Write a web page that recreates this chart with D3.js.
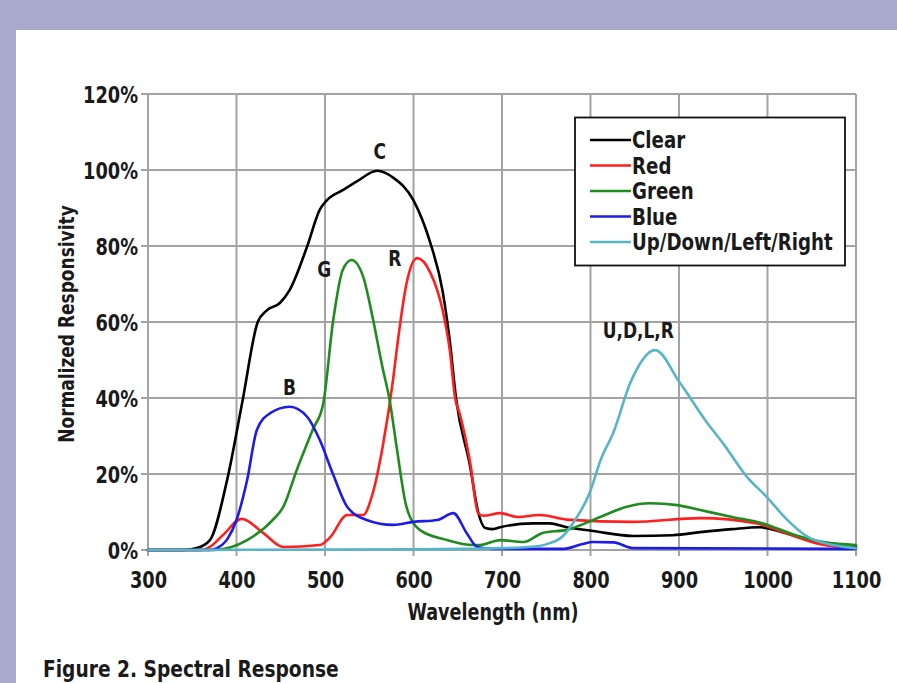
<!DOCTYPE html>
<html>
<head>
<meta charset="utf-8">
<script src="https://cdn.jsdelivr.net/npm/d3@7"></script>
<style>
  html, body { margin: 0; padding: 0; background: #a9a9cc; overflow: hidden; }
  svg { display: block; }
  text { font-family: "Liberation Sans Narrow", "Arial Narrow", "DejaVu Sans Condensed", sans-serif; font-weight: bold; fill: #1a1a1a; }
</style>
</head>
<body>
<svg id="chart" width="897" height="683"></svg>
<script>
// ---- data (wavelength nm, normalized responsivity %) ----
const clearNm  = [300, 340, 355, 370, 389, 407, 424, 434, 449, 460, 480, 494, 502, 520, 536, 559, 577, 600, 619, 633, 641, 648, 664, 673, 681, 690, 698, 735, 754, 773, 803, 848, 893, 924, 960, 991, 1020, 1056, 1100];
const clearVal = [0, 0, 0.5, 2.6, 18, 39.5, 60, 63, 65, 68.4, 80, 89.5, 92, 94.7, 97, 99.8, 98, 92, 80.8, 68, 55, 40, 22, 10, 5.8, 5.5, 6, 7, 7, 6, 5, 3.7, 3.9, 4.7, 5.5, 6, 4.5, 2, 0.8];

const redNm  = [300, 360, 370, 385, 406, 430, 453, 494, 506, 525, 543, 554, 565, 577, 581, 592, 604, 619, 633, 641, 647, 652, 664, 673, 679, 698, 717, 743, 773, 848, 924, 988, 1020, 1060, 1100];
const redVal = [0, 0, 0.8, 4, 8.2, 4.5, 0.8, 1.3, 3.4, 9.2, 9.2, 15, 27, 45, 52.6, 70, 76.8, 73, 63, 52.6, 40, 36, 23, 9.7, 9, 9.7, 8.7, 9.2, 8, 7.4, 8.4, 7, 4.5, 1.5, 0.5];

const greenNm  = [300, 374, 412, 441, 453, 468, 486, 498, 509, 520, 530, 543, 554, 565, 573, 581, 592, 607, 638, 667, 675, 698, 724, 746, 773, 811, 841, 867, 898, 924, 960, 995, 1030, 1065, 1100];
const greenVal = [0, 0, 2.6, 7.9, 11.4, 21, 31.6, 38.5, 60, 73.7, 76.3, 72, 61, 48, 39.5, 27, 11.4, 5.3, 2.6, 1.3, 1.3, 2.6, 2.1, 4.5, 5.3, 8.7, 11.4, 12.3, 11.8, 10.5, 8.7, 7, 4, 2, 1.3];

const blueNm  = [300, 370, 378, 390, 400, 412, 423, 438, 460, 480, 494, 509, 525, 547, 577, 600, 627, 645, 660, 672, 690, 770, 790, 803, 826, 848, 1100];
const blueVal = [0, 0, 0.5, 3, 7.9, 18.4, 31.6, 36, 37.7, 35, 29, 20, 11.4, 7.9, 6.6, 7.4, 7.9, 9.7, 4.5, 0.8, 0.3, 0.3, 1.5, 2.1, 2, 0.5, 0.3];

const udlrNm  = [300, 600, 700, 740, 754, 768, 780, 799, 812, 826, 845, 873, 901, 932, 950, 977, 999, 1022, 1045, 1074, 1100];
const udlrVal = [0, 0.2, 0.5, 1, 1.8, 3.5, 7, 15, 24, 31, 44, 52.6, 44, 33.4, 28, 19.2, 14, 8, 3.5, 1.3, 0.5];

const seriesNames  = ["Clear", "Red", "Green", "Blue", "Up/Down/Left/Right"];
const seriesColors = ["#000000", "#ff1f1f", "#1e8c1e", "#1c1ce6", "#58b4c9"];

const xTicks = [300, 400, 500, 600, 700, 800, 900, 1000, 1100];
const yTicks = [0, 20, 40, 60, 80, 100, 120];

const peakLabels = [
  { text: "C", nm: 562, v: 105 },
  { text: "G", nm: 499, v: 73.8 },
  { text: "R", nm: 579, v: 76.7 },
  { text: "B", nm: 460, v: 43 },
  { text: "U,D,L,R", nm: 854, v: 58 }
];

// squeeze rendered text horizontally to mimic a condensed face
function condense(sel, k) {
  sel.each(function () {
    const len = this.getComputedTextLength();
    d3.select(this).attr("textLength", len * k).attr("lengthAdjust", "spacingAndGlyphs");
  });
}

// ---- layout ----
const svg = d3.select("#chart");
svg.append("rect").attr("x", 16).attr("y", 30).attr("width", 897 - 16).attr("height", 683 - 30).attr("fill", "#ffffff");

const x = d3.scaleLinear().domain([300, 1100]).range([148, 856]);
const y = d3.scaleLinear().domain([0, 120]).range([550, 94]);

const grid = svg.append("g");
grid.selectAll("line.v").data(xTicks).enter().append("line")
  .attr("x1", d => x(d)).attr("x2", d => x(d))
  .attr("y1", y(120)).attr("y2", y(0) + 6)
  .attr("stroke", "#a3a3a3").attr("stroke-width", 2);
grid.selectAll("line.h").data(yTicks).enter().append("line")
  .attr("x1", x(300) - 7).attr("x2", x(1100))
  .attr("y1", d => y(d)).attr("y2", d => y(d))
  .attr("stroke", "#a3a3a3").attr("stroke-width", 2);

// axes labels
const xAxis = d3.axisBottom(x).tickValues(xTicks).tickSize(0).tickPadding(0).tickFormat(d3.format("d"));
const gx = svg.append("g").attr("transform", `translate(0,${y(0) + 38})`).call(xAxis);
gx.select(".domain").remove();
gx.selectAll("text").attr("font-size", 23).attr("dy", 0).call(condense, 0.86);

const yAxis = d3.axisLeft(y).tickValues(yTicks).tickSize(0).tickPadding(0).tickFormat(d => d + "%");
const gy = svg.append("g").attr("transform", `translate(${x(300) - 10},0)`).call(yAxis);
gy.select(".domain").remove();
gy.selectAll("text").attr("font-size", 23).attr("dy", "0.36em").call(condense, 0.86);

svg.append("text").attr("x", 493).attr("y", 620).attr("text-anchor", "middle").attr("font-size", 23)
  .text("Wavelength (nm)").call(condense, 0.85);
svg.append("text").attr("transform", "translate(74,324) rotate(-90)").attr("text-anchor", "middle").attr("font-size", 21)
  .text("Normalized Responsivity").call(condense, 0.9);

// ---- curves ----
const seriesNm  = [clearNm, redNm, greenNm, blueNm, udlrNm];
const seriesVal = [clearVal, redVal, greenVal, blueVal, udlrVal];
const line = d3.line().x(d => x(d[0])).y(d => y(d[1])).curve(d3.curveMonotoneX);
seriesNames.forEach((name, i) => {
  const pts = seriesNm[i].map((n, j) => [n, seriesVal[i][j]]);
  svg.append("path").datum(pts).attr("d", line)
    .attr("fill", "none").attr("stroke", seriesColors[i])
    .attr("stroke-width", 2.6).attr("stroke-linejoin", "round").attr("stroke-linecap", "round");
});

// peak labels
svg.selectAll("text.peak").data(peakLabels).enter().append("text")
  .attr("x", d => x(d.nm)).attr("y", d => y(d.v)).attr("text-anchor", "middle")
  .attr("dy", "0.36em").attr("font-size", 22).text(d => d.text).call(condense, 0.86);

// ---- legend ----
const lg = svg.append("g");
lg.append("rect").attr("x", 575).attr("y", 117.5).attr("width", 270).attr("height", 148)
  .attr("fill", "#ffffff").attr("stroke", "#111").attr("stroke-width", 1.8);
seriesNames.forEach((name, i) => {
  const cy = 140 + i * 25.5;
  lg.append("line").attr("x1", 590).attr("x2", 631).attr("y1", cy).attr("y2", cy)
    .attr("stroke", seriesColors[i]).attr("stroke-width", 2.6);
  lg.append("text").attr("x", 632).attr("y", cy).attr("dy", "0.36em").attr("font-size", 23).text(name).call(condense, 0.88);
});

// figure caption
svg.append("text").attr("x", 43).attr("y", 677).attr("font-size", 23).attr("fill", "#222")
  .text("Figure 2. Spectral Response").call(condense, 0.9);
</script>
</body>
</html>
